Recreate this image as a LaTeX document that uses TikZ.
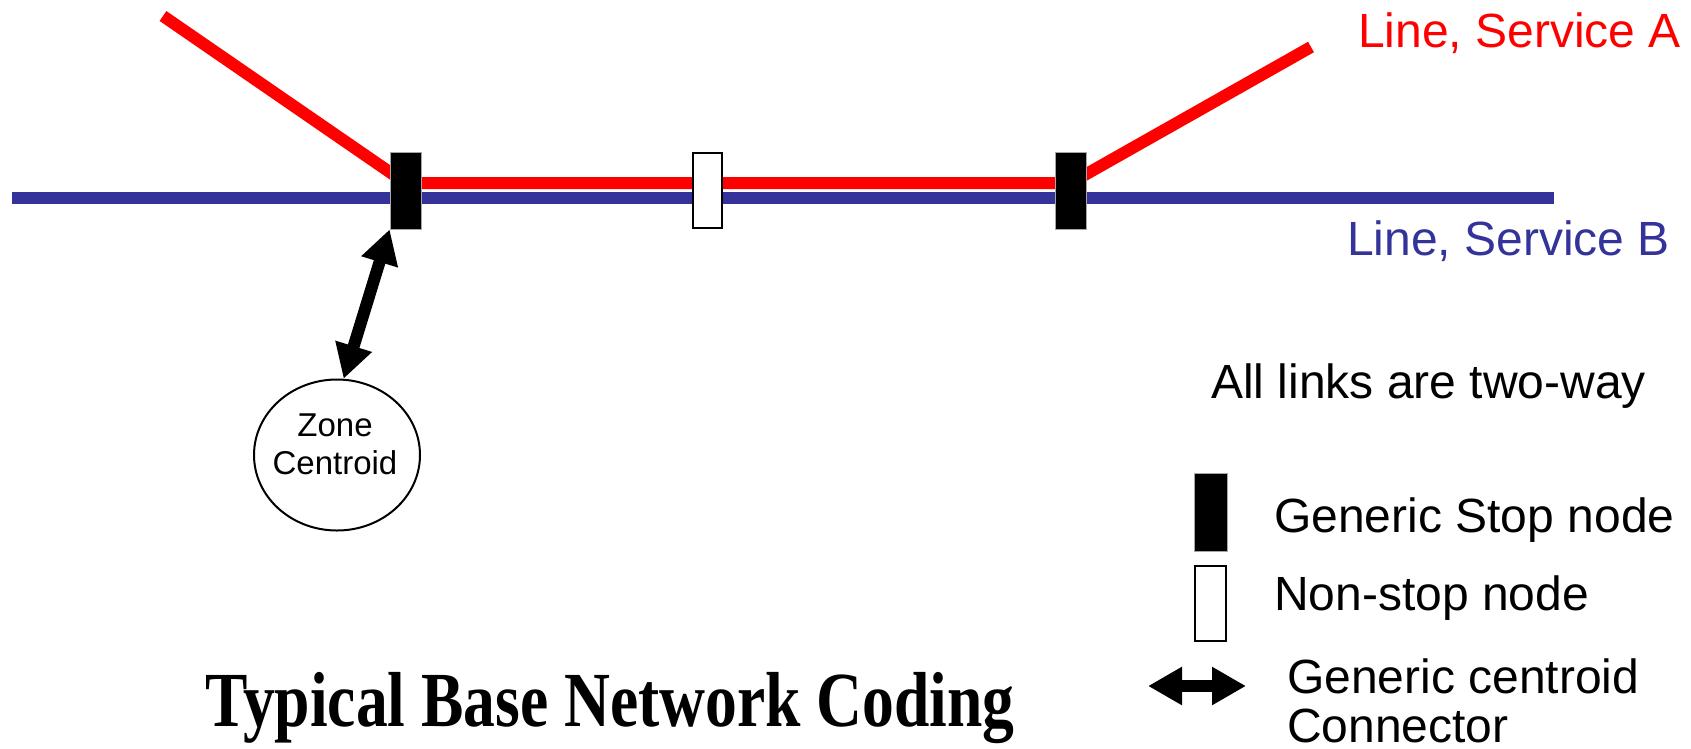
\documentclass[tikz,border=0pt]{standalone}
\usepackage{fontspec}
\setmainfont{Liberation Sans}
\newfontfamily\titlefont{Liberation Serif}
\usetikzlibrary{arrows.meta,shapes.geometric,backgrounds}
\definecolor{lineA}{HTML}{FF0000}
\definecolor{lineB}{HTML}{333399}
\tikzset{
  stopnode/.style={rectangle, fill=black, draw=black!35, line width=0.8pt,
    minimum width=31pt, minimum height=77pt, inner sep=0pt},
  passnode/.style={rectangle, fill=white, draw=black, line width=2pt,
    minimum width=29pt, minimum height=75pt, inner sep=0pt},
  servicea/.style={draw=lineA, line width=12pt},
  serviceb/.style={draw=lineB, line width=12pt},
  conn/.style={draw=black, line width=12pt,
    {Triangle[length=34pt,width=36pt]}-{Triangle[length=34pt,width=36pt]}},
  txt/.style={font=\fontsize{48}{57}\selectfont, inner sep=0pt, anchor=base west},
  zonestyle/.style={ellipse, draw=black, line width=2pt, fill=white,
    minimum width=166pt, minimum height=151pt, inner sep=0pt},
}
\begin{document}
\begin{tikzpicture}[x=1pt,y=-1pt]
\useasboundingbox (0,0) rectangle (1691,748);

% network nodes
\node[stopnode] (stop1) at (405.5,190.5) {};
\node[passnode] (pass1) at (707.5,190.5) {};
\node[stopnode] (stop2) at (1070.5,190.5) {};

% free ends of the two lines
\coordinate (aW) at (163,16);
\coordinate (aE) at (1311,47);
\coordinate (bW) at (12,198);
\coordinate (bE) at (1554,198);

\begin{pgfonlayer}{background}
  \draw[serviceb] (bW) -- (bE);
  \draw[servicea] (aW) -- ([yshift=7.5pt]stop1.center)
     -- ([yshift=7.5pt]stop2.center) -- (aE);
\end{pgfonlayer}

% line labels
\node[txt, text=lineA] (labA) at (1358,47) {Line, Service A};
\node[txt, text=lineB] (labB) at (1347,255) {Line, Service B};

% zone centroid and its connector
\node[zonestyle] (zone) at (337,455) {};
\node[font=\fontsize{33}{38}\selectfont, align=center, inner sep=0pt]
  (zonetext) at (335,444) {Zone\\Centroid};
\draw[conn] (zone.85) -- (stop1.south west);

% legend
\node[txt] (twoway) at (1211,398) {All links are two-way};
\node[stopnode, minimum width=33pt, minimum height=78pt] (legstop) at (1210.5,512) {};
\node[txt] (legstoptext) at (1274,532) {Generic Stop node};
\node[passnode, minimum width=31pt, minimum height=75pt] (legpass) at (1210.5,603.5) {};
\node[txt] (legpasstext) at (1274,610) {Non-stop node};
\coordinate (legL) at (1148,686);
\coordinate (legR) at (1246,686);
\draw[conn] (legL) -- (legR);
\node[txt] (legconn1) at (1287,693) {Generic centroid};
\node[txt] (legconn2) at (1287,742) {Connector};

% title
\node[font=\titlefont\bfseries\fontsize{78}{90}\selectfont, inner sep=0pt, anchor=base]
  (title) at (610,726) {\scalebox{0.815}[1]{Typical Base Network Coding}};
\end{tikzpicture}
\end{document}
